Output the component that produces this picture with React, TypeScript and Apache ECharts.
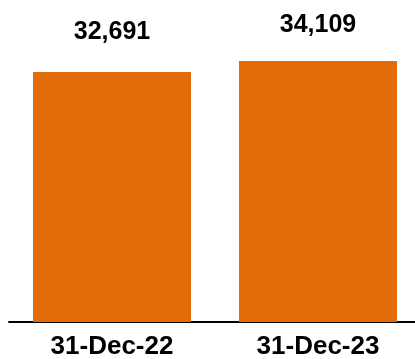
import React, { useEffect, useRef } from "react";
import * as echarts from "echarts";

const categories = ["31-Dec-22", "31-Dec-23"];
const values = [32691, 34109];
const labelDistances = [29, 26];

export default function App() {
  const ref = useRef<HTMLDivElement>(null);
  useEffect(() => {
    if (!ref.current) return;
    const chart = echarts.init(ref.current, undefined, { renderer: "svg" });
    chart.setOption({
      animation: false,
      grid: { left: 9, right: 0, top: 0, bottom: 37, containLabel: false },
      xAxis: {
        type: "category",
        data: categories,
        axisLine: { show: true, lineStyle: { color: "#000", width: 2 } },
        axisTick: { show: false },
        axisLabel: {
          color: "#000",
          fontSize: 26,
          lineHeight: 22,
          fontWeight: "bold",
          fontFamily: "Liberation Sans, Arial, sans-serif",
          margin: 12,
        },
      },
      yAxis: {
        type: "value",
        min: 0,
        max: 42100,
        show: false,
        splitLine: { show: false },
      },
      series: [
        {
          type: "bar",
          barCategoryGap: "23.3%",
          data: values.map((v, i) => ({
            value: v,
            label: { distance: labelDistances[i] },
          })),
          itemStyle: { color: "#E36C0A" },
          label: {
            show: true,
            position: "top",
            color: "#000",
            fontSize: 25,
            fontWeight: "bold",
            fontFamily: "Liberation Sans, Arial, sans-serif",
            formatter: (p: any) => p.value.toLocaleString("en-US"),
          },
        },
      ],
    });
    return () => chart.dispose();
  }, []);
  return (
    <div style={{ position: "fixed", left: 0, top: 0, width: 415, height: 359, overflow: "hidden" }}>
      <div ref={ref} style={{ width: 421, height: 359 }} />
    </div>
  );
}
